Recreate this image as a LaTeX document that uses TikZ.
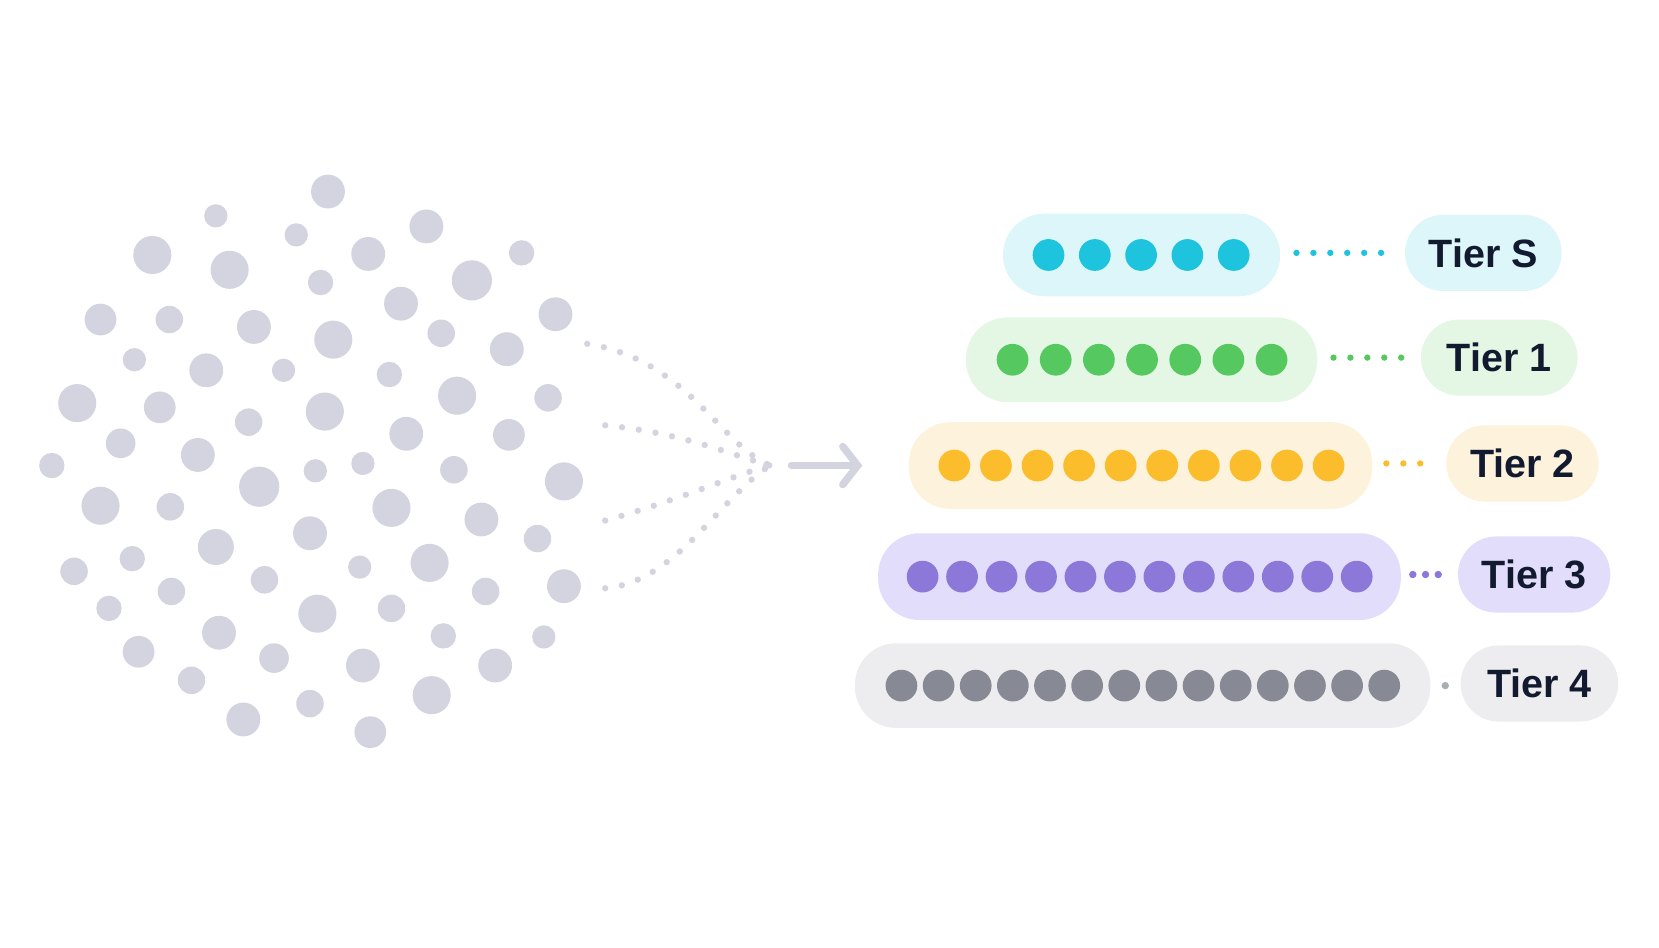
\documentclass[tikz,border=0pt]{standalone}
\usepackage{fontspec}
\setmainfont{Liberation Sans}
\usetikzlibrary{arrows.meta}
\definecolor{cloud}{HTML}{D3D4DF}
\definecolor{ink}{HTML}{121A30}
\definecolor{cS}{HTML}{1EC3DE}\definecolor{bS}{HTML}{DDF6FA}
\definecolor{c1}{HTML}{55C85F}\definecolor{b1}{HTML}{E4F7E4}
\definecolor{c2}{HTML}{FBBD2C}\definecolor{b2}{HTML}{FDF3DC}
\definecolor{c3}{HTML}{8B78D8}\definecolor{b3}{HTML}{E2DDFA}
\definecolor{c4}{HTML}{878A94}\definecolor{b4}{HTML}{EDEDF0}
\def\u{0.02116cm}
\tikzset{
 bar/.style={draw=none,fill=#1,rounded corners=39*\u,inner sep=0pt},
 lab/.style={fill=#1,rounded corners=36*\u,inner sep=0pt,minimum height=72*\u,text=ink,font=\fontsize{22.5}{26}\selectfont\bfseries},
 dotline/.style={#1,line width=6*\u,line cap=round,dash pattern=on 0pt off 16*\u},
 cdot/.style={circle,fill=cloud,inner sep=0pt}
}
\begin{document}
\begin{tikzpicture}[x=0.02116cm,y=-0.02116cm]
\useasboundingbox (0,0) rectangle (1568,896);
\foreach \x/\y/\r [count=\i] in {310/181/16,204/204/11,403/214/16,280/222/11,144/241/18,348/240/16,493/239/12,217/255/18,446/265/19,303/267/12,95/302/15,160/302/13,240/309/16,379/287/16,525/297/16,315/321/18,417/315/13,479/330/16,127/340/11,195/350/16,268/350/11,368/354/12,432/374/18,73/381/18,151/385/15,307/389/18,518/376/13,235/399/13,384/410/16,481/411/15,114/419/14,187/430/16,49/440/12,343/438/11,298/445/11,429/444/13,245/460/19,533/455/18,95/478/18,161/479/13,370/480/18,455/491/16,293/504/16,204/517/17,508/509/13,125/528/12,406/532/18,340/536/11,70/540/13,250/548/13,459/559/13,162/559/13,533/554/16,103/575/12,370/575/13,300/580/18,207/598/16,419/601/12,131/616/15,259/622/14,514/602/11,343/629/16,468/629/16,181/643/13,408/657/18,293/665/13,230/680/16,350/692/15}
  \node[cdot,minimum size=2*\r*\u] (c\i) at (\x,\y) {};
\coordinate (f1) at (555,325);\coordinate (f2) at (572,402);
\coordinate (f3) at (572,492);\coordinate (f4) at (572,556);
\coordinate (fj) at (728,440);
\draw[dotline=cloud] (f1) .. controls (650,340) and (680,420) .. (fj);
\draw[dotline=cloud] (f2) .. controls (650,410) and (690,430) .. (fj);
\draw[dotline=cloud] (f3) .. controls (650,470) and (690,450) .. (fj);
\draw[dotline=cloud] (f4) .. controls (640,550) and (680,470) .. (fj);
\coordinate (a0) at (748,440);\coordinate (a1) at (815,440);
\draw[cloud,line width=7*\u,line cap=round,-{Straight Barb[length=14*\u,width=36*\u,line cap=round]}] (a0) -- (a1);
% bars
\foreach \n/\xa/\xb/\y/\h/\k/\xs/\st/\cb/\cc/\lx/\lw/\t in {
 S/948/1210/241/78/5/991/43.75/bS/cS/1402/148/Tier S,
 1/913/1245/340/80/7/957/40.8/b1/c1/1417/148/Tier 1,
 2/859/1297/440/82/10/902/39.3/b2/c2/1439/144/Tier 2,
 3/830/1324/545/82/12/872/37.3/b3/c3/1450/144/Tier 3,
 4/808/1352/648/80/14/852/35.1/b4/c4/1455/149/Tier 4}{
 \node[bar=\cb,minimum width={(\xb-\xa)*\u},minimum height=\h*\u] (bar\n) at ({(\xa+\xb)/2},\y) {};
 \foreach \j in {1,...,\k}
   \node[circle,fill=\cc,inner sep=0pt,minimum size=30*\u] (d\n-\j) at ({\xs+(\j-1)*\st},\y) {};
 \node[lab=\cb,minimum width=\lw*\u] (lab\n) at (\lx,\y-2) {\t};
}
\draw[dotline=cS,shorten <=15*\u,shorten >=12*\u] (barS.east|-labS.west) -- (labS.west);
\draw[dotline=c1,shorten <=15*\u,shorten >=12*\u] (bar1.east|-lab1.west) -- (lab1.west);
\draw[dotline=c2,shorten <=13*\u,shorten >=12*\u] (bar2.east|-lab2.west) -- (lab2.west);
\draw[dotline=c3,line width=7*\u,dash pattern=on 0pt off 12*\u,shorten <=11*\u,shorten >=9*\u] (bar3.east|-lab3.west) -- (lab3.west);
\coordinate (g4) at (1366,648);
\fill[c4!70] (g4) circle (3.5*\u);
\end{tikzpicture}
\end{document}
